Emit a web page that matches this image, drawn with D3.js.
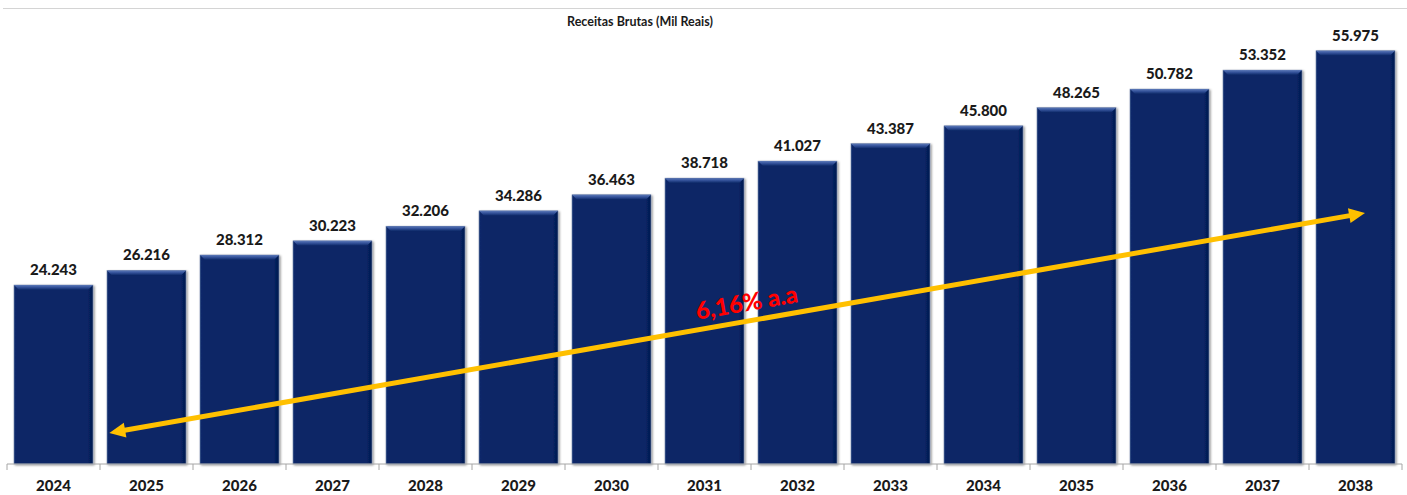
<!DOCTYPE html>
<html>
<head>
<meta charset="utf-8">
<script src="https://cdn.jsdelivr.net/npm/d3@7"></script>
<style>
  html, body { margin: 0; padding: 0; background: #ffffff; }
  svg { display: block; }
</style>
</head>
<body>
<svg id="chart" width="1407" height="495"></svg>
<script>
// Receitas brutas anuais (mil reais)
const years = ["2024","2025","2026","2027","2028","2029","2030","2031","2032","2033","2034","2035","2036","2037","2038"];
const receitas = [24243, 26216, 28312, 30223, 32206, 34286, 36463, 38718, 41027, 43387, 45800, 48265, 50782, 53352, 55975];
const valueLabels = ["24.243","26.216","28.312","30.223","32.206","34.286","36.463","38.718","41.027","43.387","45.800","48.265","50.782","53.352","55.975"];
const chartTitle = "Receitas Brutas (Mil Reais)";
const growthLabel = "6,16% a.a";
// trend arrow ends, in data terms: [year, offset within band (0..1), value]
const trendStart = ["2025", 0.03, 4200];
const trendEnd = ["2038", 0.62, 34000];

const svg = d3.select("#chart");
const W = 1407, H = 495;

const x = d3.scaleBand().domain(years).range([7, 1402]).paddingInner(0.15).paddingOuter(0.075);
const y = d3.scaleLinear().domain([0, 60000]).range([464, 21]);

const defs = svg.append("defs");
const shadow = defs.append("filter").attr("id", "barShadow")
  .attr("x", "-10%").attr("y", "-10%").attr("width", "130%").attr("height", "130%");
shadow.append("feDropShadow").attr("dx", 1.2).attr("dy", 1).attr("stdDeviation", 0.9)
  .attr("flood-color", "#000").attr("flood-opacity", 0.45);

const bevel = defs.append("linearGradient").attr("id", "bevel")
  .attr("x1", 0).attr("y1", 0).attr("x2", 0).attr("y2", 1);
bevel.append("stop").attr("offset", "0%").attr("stop-color", "#5c79b8");
bevel.append("stop").attr("offset", "45%").attr("stop-color", "#34529a");
bevel.append("stop").attr("offset", "100%").attr("stop-color", "#0a2664");

const sideGrad = defs.append("linearGradient").attr("id", "side")
  .attr("x1", 0).attr("y1", 0).attr("x2", 1).attr("y2", 0);
sideGrad.append("stop").attr("offset", "0%").attr("stop-color", "#0c2b6c");
sideGrad.append("stop").attr("offset", "4%").attr("stop-color", "#082566");
sideGrad.append("stop").attr("offset", "93%").attr("stop-color", "#082566");
sideGrad.append("stop").attr("offset", "100%").attr("stop-color", "#031a4e");

// top separator line
svg.append("line").attr("x1", 3).attr("x2", W).attr("y1", 8.5).attr("y2", 8.5)
  .attr("stroke", "#d4d4d4").attr("stroke-width", 1.2);

// title
svg.append("text").attr("x", 640).attr("y", 26).attr("text-anchor", "middle")
  .attr("font-family", "Lato, 'Open Sans', sans-serif").attr("font-weight", 700)
  .attr("font-size", 12.5).attr("fill", "#1a1a1a").text(chartTitle);

const rows = years.map((yr, i) => ({ year: yr, value: receitas[i], label: valueLabels[i] }));

const bars = svg.append("g").selectAll("g").data(rows).join("g");

bars.append("rect")
  .attr("x", d => x(d.year))
  .attr("y", d => y(d.value))
  .attr("width", x.bandwidth())
  .attr("height", d => y(0) - y(d.value))
  .attr("fill", "url(#side)")
  .attr("stroke", "#8c9bb8").attr("stroke-width", 0.6)
  .attr("filter", "url(#barShadow)");

// bevelled top edge
bars.append("path")
  .attr("d", d => {
    const x0 = x(d.year), x1 = x0 + x.bandwidth(), t = y(d.value), b = 5;
    return `M${x0},${t}L${x1},${t}L${x1 - b},${t + b}L${x0 + b},${t + b}Z`;
  })
  .attr("fill", "url(#bevel)");

// value labels
bars.append("text")
  .attr("x", d => x(d.year) + x.bandwidth() / 2)
  .attr("y", d => y(d.value) - 10)
  .attr("text-anchor", "middle")
  .attr("font-family", "Lato, 'Open Sans', sans-serif").attr("font-weight", 900)
  .attr("font-size", 15).attr("fill", "#1a1a1a")
  .text(d => d.label);

// category axis
const axisG = svg.append("g").attr("transform", `translate(0,${y(0)})`);
axisG.append("line").attr("x1", x.range()[0]).attr("x2", x.range()[1])
  .attr("stroke", "#a6a6a6").attr("stroke-width", 1);
const edges = years.map(yr => x(yr) - x.step() * x.paddingInner() / 2).concat([x.range()[1]]);
axisG.selectAll("line.tick").data(edges).join("line").attr("class", "tick")
  .attr("x1", d => d).attr("x2", d => d).attr("y1", 0).attr("y2", 6)
  .attr("stroke", "#a6a6a6").attr("stroke-width", 1);
axisG.selectAll("text").data(years).join("text")
  .attr("x", d => x(d) + x.bandwidth() / 2)
  .attr("y", 27)
  .attr("text-anchor", "middle")
  .attr("font-family", "Lato, 'Open Sans', sans-serif").attr("font-weight", 900)
  .attr("font-size", 15).attr("fill", "#1a1a1a")
  .text(d => d);

// growth trend arrow
const p0 = [x(trendStart[0]) + x.bandwidth() * trendStart[1], y(trendStart[2])];
const p1 = [x(trendEnd[0]) + x.bandwidth() * trendEnd[1], y(trendEnd[2])];
const ang = Math.atan2(p1[1] - p0[1], p1[0] - p0[0]);
const headLen = 16, headHalf = 7.5;
const ux = Math.cos(ang), uy = Math.sin(ang);
const px = -uy, py = ux;
const arrow = svg.append("g");
arrow.append("line")
  .attr("x1", p0[0] + ux * (headLen - 2)).attr("y1", p0[1] + uy * (headLen - 2))
  .attr("x2", p1[0] - ux * (headLen - 2)).attr("y2", p1[1] - uy * (headLen - 2))
  .attr("stroke", "#ffc000").attr("stroke-width", 5);
function head(tip, dir) {
  const bx = tip[0] - dir * ux * headLen, by = tip[1] - dir * uy * headLen;
  return [[tip[0], tip[1]], [bx + px * headHalf, by + py * headHalf], [bx - px * headHalf, by - py * headHalf]];
}
arrow.selectAll("polygon").data([head(p0, -1), head(p1, 1)]).join("polygon")
  .attr("points", d => d.map(p => p.join(",")).join(" "))
  .attr("fill", "#ffc000");

// growth rate label, aligned with the arrow
const mid = [p0[0] + (p1[0] - p0[0]) * 0.51, p0[1] + (p1[1] - p0[1]) * 0.51];
svg.append("text")
  .attr("transform", `translate(${mid[0]},${mid[1]}) rotate(${ang * 180 / Math.PI}) translate(0,-10)`)
  .attr("text-anchor", "middle")
  .attr("font-family", "Lato, 'Open Sans', sans-serif").attr("font-weight", 900)
  .attr("font-size", 24).attr("fill", "#ff0000")
  .text(growthLabel);
</script>
</body>
</html>
